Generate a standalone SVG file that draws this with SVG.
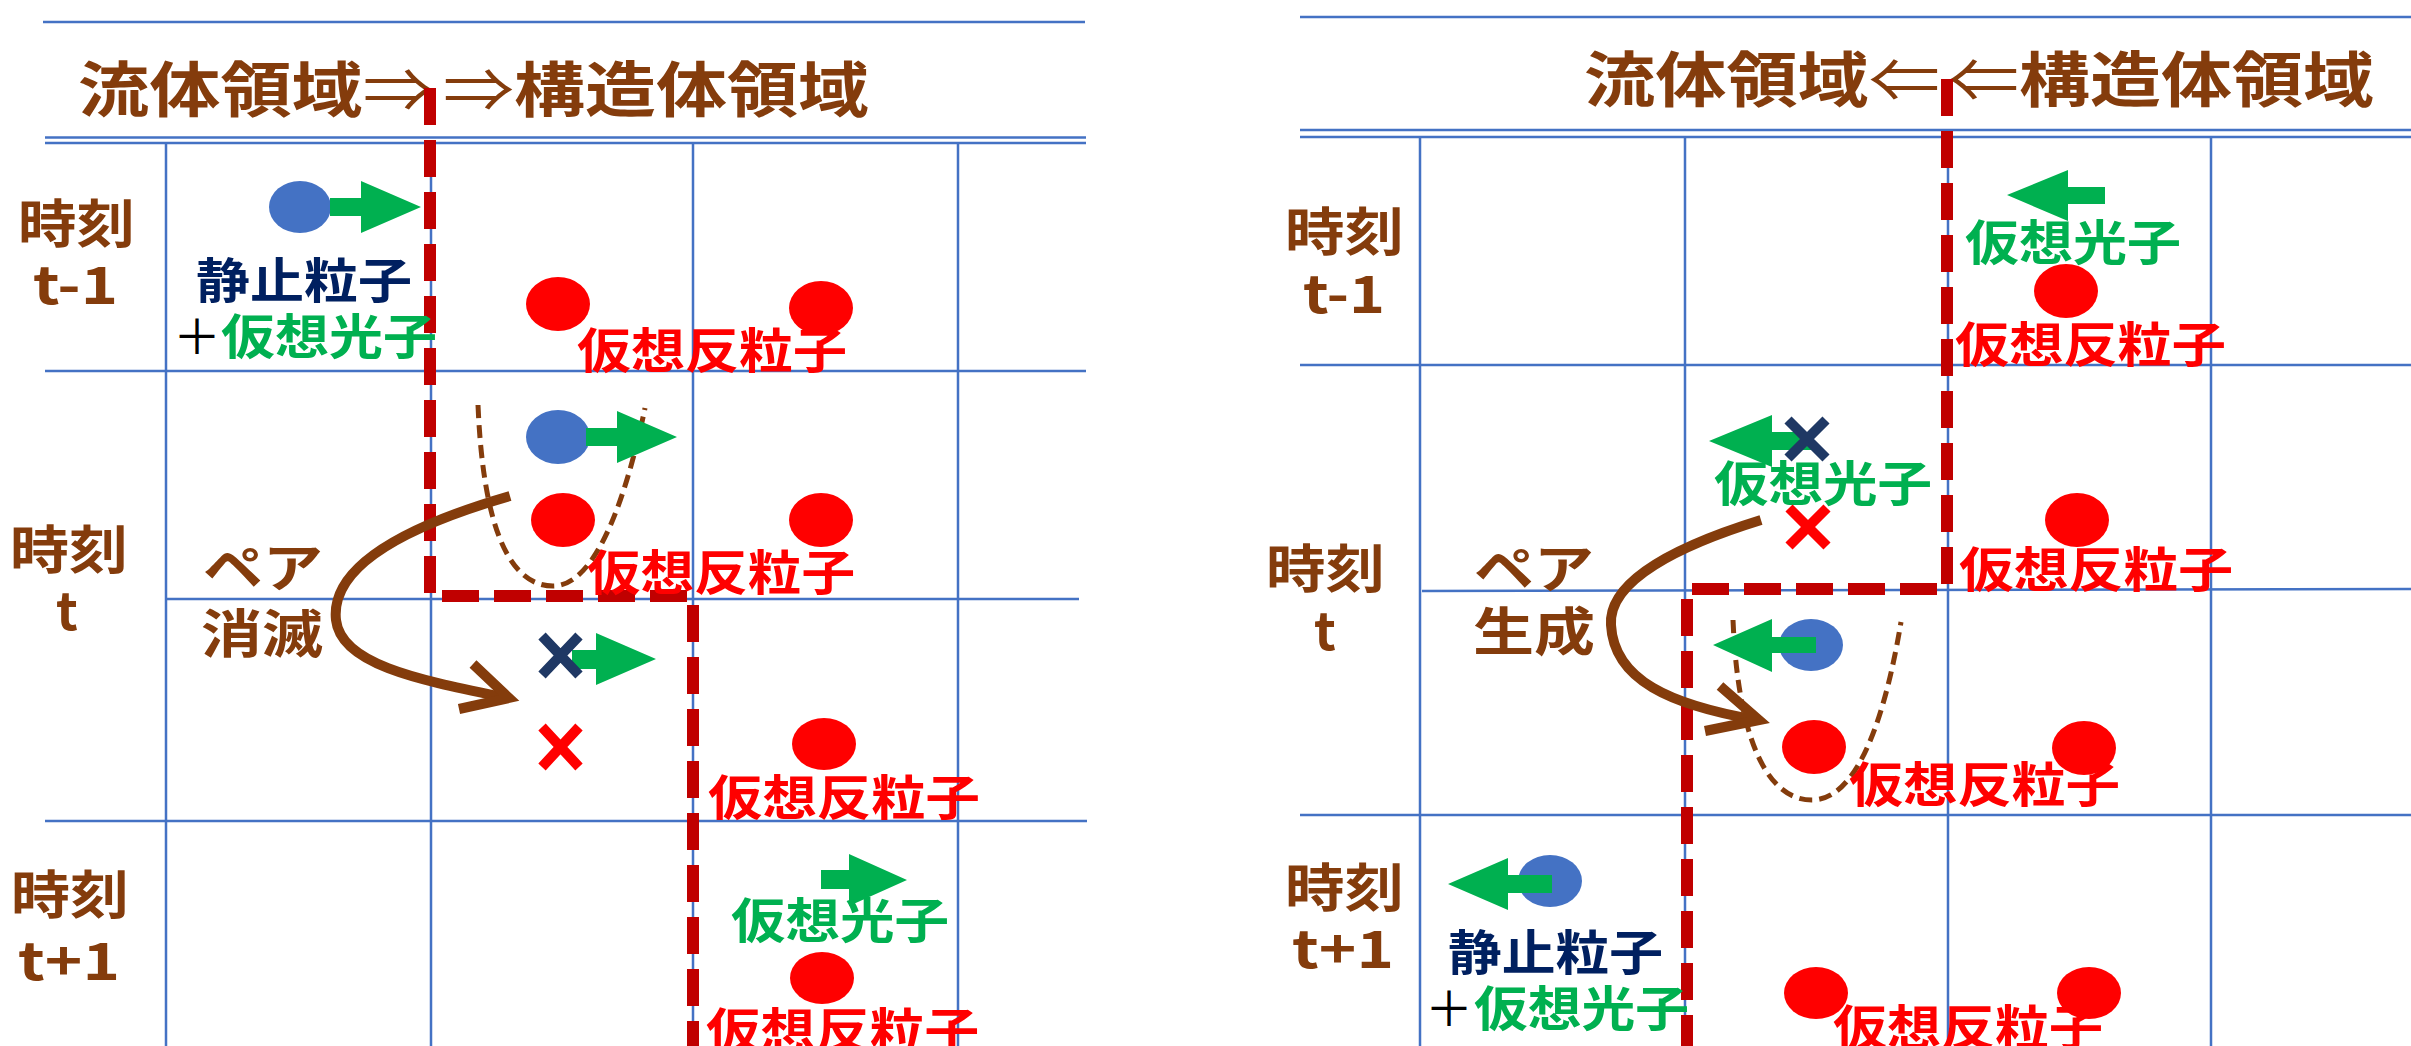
<svg xmlns="http://www.w3.org/2000/svg" width="2411" height="1046" viewBox="0 0 2411 1046">
<style>
.grid line{stroke:#4472C4;stroke-width:2.5;fill:none}
.bnd{fill:none;stroke:#C00000;stroke-width:12;stroke-dasharray:37 15}
.tx{font-family:"Noto Sans CJK JP","Noto Sans CJK SC",sans-serif;font-weight:bold}
.ttl{font-size:60px}
.lbl{font-size:52px}
.sm{font-size:48px}
.thin{font-weight:normal}
.br{fill:#843C0C}
.rd{fill:#FF0000}
.gr{fill:#00B050}
.nv{fill:#002060}
.plus{font-family:"Noto Sans CJK JP",sans-serif;font-weight:normal;font-size:48px;fill:#000}
.pb{fill:#4472C4}
.pr{fill:#FF0000}
.ar{fill:#00B050}
.xn{stroke:#1F3864;stroke-width:10;fill:none}
.xr{stroke:#FF0000;stroke-width:10;fill:none}
.u{fill:none;stroke:#843C0C;stroke-width:5;stroke-dasharray:13 7}
.cv{fill:none;stroke:#843C0C;stroke-width:10;stroke-linejoin:miter}
</style>
<rect width="2411" height="1046" fill="#fff"/>

<!-- LEFT PANEL -->
<g id="left-grid" class="grid">
 <line x1="43" y1="22" x2="1085" y2="22"/>
 <line x1="45" y1="137.5" x2="1086" y2="137.5"/>
 <line x1="45" y1="143" x2="1086" y2="143"/>
 <line x1="45" y1="371" x2="1086" y2="371"/>
 <line x1="166" y1="599" x2="1079" y2="599"/>
 <line x1="45" y1="821" x2="1087" y2="821"/>
 <line x1="166" y1="143" x2="166" y2="1046"/>
 <line x1="431" y1="143" x2="431" y2="1046"/>
 <line x1="693" y1="143" x2="693" y2="1046"/>
 <line x1="958" y1="143" x2="958" y2="1046"/>
</g>
<g id="left-title" class="tx ttl br">
 <text x="78" y="112" textLength="356" lengthAdjust="spacingAndGlyphs">流体領域<tspan class="thin">⇒</tspan></text>
 <text x="443" y="112" textLength="426" lengthAdjust="spacingAndGlyphs"><tspan class="thin">⇒</tspan>構造体領域</text>
</g>
<g id="left-boundary">
 <path class="bnd" d="M430,88 V596 H693 V1046"/>
</g>
<g id="left-time-labels" class="tx lbl br">
 <text x="18" y="243" textLength="117" lengthAdjust="spacingAndGlyphs">時刻</text>
 <text x="33" y="304" textLength="85" lengthAdjust="spacingAndGlyphs">t-1</text>
 <text x="10" y="569" textLength="118" lengthAdjust="spacingAndGlyphs">時刻</text>
 <text x="56" y="630">t</text>
 <text x="11" y="914" textLength="118" lengthAdjust="spacingAndGlyphs">時刻</text>
 <text x="18" y="980" textLength="102" lengthAdjust="spacingAndGlyphs">t+1</text>
</g>
<g id="left-row-t-1">
 <ellipse class="pb" cx="300" cy="207" rx="31" ry="26"/>
 <path class="ar" d="M330,198 H361 V181 L421,207 L361,233 V216 H330 Z"/>
 <text class="tx sm nv" x="196" y="298" textLength="216" lengthAdjust="spacingAndGlyphs">静止粒子</text>
 <text class="plus" x="173" y="354">＋</text>
 <text class="tx sm gr" x="221" y="354" textLength="216" lengthAdjust="spacingAndGlyphs">仮想光子</text>
 <ellipse class="pr" cx="558" cy="304" rx="32" ry="27"/>
 <ellipse class="pr" cx="821" cy="308" rx="32" ry="27"/>
 <text class="tx sm rd" x="577" y="368" textLength="270" lengthAdjust="spacingAndGlyphs">仮想反粒子</text>
</g>
<g id="left-row-t-upper">
 <path class="u" d="M478,405 C482,500 500,586 553,586 C600,586 630,480 645,408"/>
 <ellipse class="pb" cx="558" cy="437" rx="32" ry="27"/>
 <path class="ar" d="M586,428 H617 V411 L677,437 L617,463 V446 H586 Z"/>
 <ellipse class="pr" cx="563" cy="520" rx="32" ry="27"/>
 <ellipse class="pr" cx="821" cy="520" rx="32" ry="27"/>
 <text class="tx sm rd" x="587" y="590" textLength="268" lengthAdjust="spacingAndGlyphs">仮想反粒子</text>
 <text class="tx lbl br" x="203" y="587" textLength="120" lengthAdjust="spacingAndGlyphs">ペア</text>
 <text class="tx lbl br" x="201" y="653" textLength="122" lengthAdjust="spacingAndGlyphs">消滅</text>
</g>
<g id="left-row-t-lower">
 <path class="ar" d="M572,650 H596 V633 L656,659 L596,685 V669 H572 Z"/>
 <path class="xn" d="M542,636 L579,675 M579,636 L542,675"/>
 <path class="xr" d="M542,727 L579,767 M579,727 L542,767"/>
 <ellipse class="pr" cx="824" cy="744" rx="32" ry="26"/>
 <text class="tx sm rd" x="708" y="815" textLength="272" lengthAdjust="spacingAndGlyphs">仮想反粒子</text>
</g>
<g id="left-row-t+1">
 <path class="ar" d="M821,870 H849 V854 L907,880 L849,906 V889 H821 Z"/>
 <text class="tx sm gr" x="731" y="938" textLength="218" lengthAdjust="spacingAndGlyphs">仮想光子</text>
 <ellipse class="pr" cx="822" cy="978" rx="32" ry="26"/>
 <text class="tx sm rd" x="706" y="1048" textLength="273" lengthAdjust="spacingAndGlyphs">仮想反粒子</text>
</g>
<g id="left-connectors">
 <path class="cv" d="M510,496 C410,525 330,565 336,620 C341,665 420,680 507,698"/>
 <path class="cv" d="M473,664 L509,698 L459,709"/>
</g>

<!-- RIGHT PANEL -->
<g id="right-grid" class="grid">
 <line x1="1300" y1="17" x2="2411" y2="17"/>
 <line x1="1300" y1="130" x2="2411" y2="130"/>
 <line x1="1300" y1="137" x2="2411" y2="137"/>
 <line x1="1300" y1="365" x2="2411" y2="365"/>
 <line x1="1422" y1="591" x2="2411" y2="589"/>
 <line x1="1300" y1="815" x2="2411" y2="815"/>
 <line x1="1420" y1="137" x2="1420" y2="1046"/>
 <line x1="1685" y1="137" x2="1685" y2="1046"/>
 <line x1="1948" y1="137" x2="1948" y2="1046"/>
 <line x1="2211" y1="137" x2="2211" y2="1046"/>
</g>
<g id="right-title" class="tx ttl br">
 <text x="1584" y="102" textLength="356" lengthAdjust="spacingAndGlyphs">流体領域<tspan class="thin">⇐</tspan></text>
 <text x="1948" y="102" textLength="426" lengthAdjust="spacingAndGlyphs"><tspan class="thin">⇐</tspan>構造体領域</text>
</g>
<g id="right-boundary">
 <path class="bnd" d="M1947,79 V589 H1687 V1046"/>
</g>
<g id="right-time-labels" class="tx lbl br">
 <text x="1285" y="251" textLength="119" lengthAdjust="spacingAndGlyphs">時刻</text>
 <text x="1303" y="313" textLength="82" lengthAdjust="spacingAndGlyphs">t-1</text>
 <text x="1266" y="588" textLength="119" lengthAdjust="spacingAndGlyphs">時刻</text>
 <text x="1314" y="650">t</text>
 <text x="1285" y="907" textLength="119" lengthAdjust="spacingAndGlyphs">時刻</text>
 <text x="1292" y="968" textLength="102" lengthAdjust="spacingAndGlyphs">t+1</text>
</g>
<g id="right-row-t-1">
 <path class="ar" d="M2105,187 H2068 V170 L2007,195 L2068,221 V204 H2105 Z"/>
 <text class="tx sm gr" x="1965" y="260" textLength="216" lengthAdjust="spacingAndGlyphs">仮想光子</text>
 <ellipse class="pr" cx="2066" cy="291" rx="32" ry="27"/>
 <text class="tx sm rd" x="1955" y="362" textLength="271" lengthAdjust="spacingAndGlyphs">仮想反粒子</text>
</g>
<g id="right-row-t-upper">
 <path class="ar" d="M1813,432 H1772 V415 L1709,441 L1772,467 V450 H1813 Z"/>
 <path class="xn" d="M1788,420 L1826,458 M1826,420 L1788,458"/>
 <text class="tx sm gr" x="1714" y="501" textLength="218" lengthAdjust="spacingAndGlyphs">仮想光子</text>
 <path class="xr" d="M1789,508 L1827,546 M1827,508 L1789,546"/>
 <ellipse class="pr" cx="2077" cy="520" rx="32" ry="27"/>
 <text class="tx sm rd" x="1959" y="587" textLength="274" lengthAdjust="spacingAndGlyphs">仮想反粒子</text>
 <text class="tx lbl br" x="1474" y="588" textLength="120" lengthAdjust="spacingAndGlyphs">ペア</text>
 <text class="tx lbl br" x="1473" y="651" textLength="122" lengthAdjust="spacingAndGlyphs">生成</text>
</g>
<g id="right-row-t-lower">
 <path class="u" d="M1733,620 C1737,720 1760,800 1812,800 C1862,800 1888,700 1901,622"/>
 <ellipse class="pb" cx="1811" cy="645" rx="32" ry="26"/>
 <path class="ar" d="M1816,637 H1772 V619 L1713,645 L1772,672 V653 H1816 Z"/>
 <ellipse class="pr" cx="1814" cy="747" rx="32" ry="27"/>
 <ellipse class="pr" cx="2084" cy="748" rx="32" ry="27"/>
 <text class="tx sm rd" x="1849" y="802" textLength="271" lengthAdjust="spacingAndGlyphs">仮想反粒子</text>
</g>
<g id="right-row-t+1">
 <ellipse class="pb" cx="1550" cy="881" rx="32" ry="26"/>
 <path class="ar" d="M1552,875 H1508 V858 L1448,884 L1508,910 V893 H1552 Z"/>
 <text class="tx sm nv" x="1448" y="970" textLength="215" lengthAdjust="spacingAndGlyphs">静止粒子</text>
 <text class="plus" x="1425" y="1026">＋</text>
 <text class="tx sm gr" x="1474" y="1026" textLength="215" lengthAdjust="spacingAndGlyphs">仮想光子</text>
 <ellipse class="pr" cx="1816" cy="993" rx="32" ry="26"/>
 <ellipse class="pr" cx="2089" cy="993" rx="32" ry="26"/>
 <text class="tx sm rd" x="1833" y="1045" textLength="270" lengthAdjust="spacingAndGlyphs">仮想反粒子</text>
</g>
<g id="right-connectors">
 <path class="cv" d="M1761,520 C1680,545 1608,580 1611,625 C1614,680 1670,705 1757,720"/>
 <path class="cv" d="M1720,686 L1759,720 L1705,731"/>
</g>
</svg>
